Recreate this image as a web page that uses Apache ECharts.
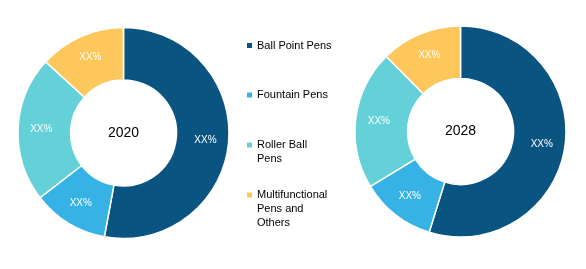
<!DOCTYPE html>
<html>
<head>
<meta charset="utf-8">
<script src="https://cdn.jsdelivr.net/npm/echarts@6/dist/echarts.min.js"></script>
<style>
html,body{margin:0;padding:0;background:#fff;}
#chart{width:586px;height:269px;}
</style>
</head>
<body>
<div id="chart"></div>
<script>
const categories = ['Ball Point Pens', 'Fountain Pens', 'Roller Ball Pens', 'Multifunctional Pens and Others'];
const legendLabels = ['Ball Point Pens', 'Fountain Pens', 'Roller Ball\nPens', 'Multifunctional\nPens and\nOthers'];
const years = ['2020', '2028'];
const values2020 = [52.9, 11.6, 22.3, 13.2];
const values2028 = [54.8, 11.5, 21.3, 12.4];
const sliceLabel = 'XX%';
const colors = ['#0a5482', '#36b3e4', '#64d0d8', '#fec75c'];

const FONT = '"Liberation Sans", Arial, sans-serif';
const chart = echarts.init(document.getElementById('chart'), null, {renderer: 'canvas'});

const legendCenters = [45.5, 95, 145, 195];
const LH = 14;
const SQ = 5;
const legends = categories.map((name, i) => {
  const n = legendLabels[i].split('\n').length;
  const h = LH * n - LH + SQ;
  const icon = 'path://M0,0L' + SQ + ',0L' + SQ + ',' + SQ + 'L0,' + SQ + 'Z' + (n > 1 ? 'M0,' + h + 'L0.01,' + h : '');
  return {
    data: [name],
    left: 247,
    top: legendCenters[i] - SQ / 2 - (LH / 2 - SQ / 2) ,
    padding: 0,
    orient: 'vertical',
    icon: icon,
    itemWidth: SQ,
    itemHeight: h,
    selectedMode: false,
    itemStyle: {borderWidth: 0},
    formatter: () => legendLabels[i],
    textStyle: {
      fontFamily: FONT,
      fontSize: 11,
      color: '#000',
      lineHeight: LH
    }
  };
});

function pieSeries(vals, center) {
  return {
    type: 'pie',
    center: center,
    radius: [53, 105.5],
    startAngle: 90,
    clockwise: true,
    silent: true,
    label: {
      show: true,
      position: 'inside',
      formatter: sliceLabel,
      color: '#fff',
      fontFamily: FONT,
      fontSize: 10
    },
    labelLine: {show: false},
    itemStyle: {borderColor: '#fff', borderWidth: 1.5},
    emphasis: {disabled: true},
    data: categories.map((c, i) => ({name: c, value: vals[i], itemStyle: {color: colors[i]}}))
  };
}

chart.setOption({
  animation: false,
  color: colors,
  legend: legends,
  title: [
    {text: years[0], left: 123.5, top: 133, textAlign: 'center', textVerticalAlign: 'middle', padding: 0,
     textStyle: {fontFamily: FONT, fontSize: 14, fontWeight: 'normal', color: '#000'}},
    {text: years[1], left: 460.5, top: 131.5, textAlign: 'center', textVerticalAlign: 'middle', padding: 0,
     textStyle: {fontFamily: FONT, fontSize: 14, fontWeight: 'normal', color: '#000'}}
  ],
  series: [
    pieSeries(values2020, [123.5, 133]),
    pieSeries(values2028, [460.5, 131.5])
  ]
});
</script>
</body>
</html>
